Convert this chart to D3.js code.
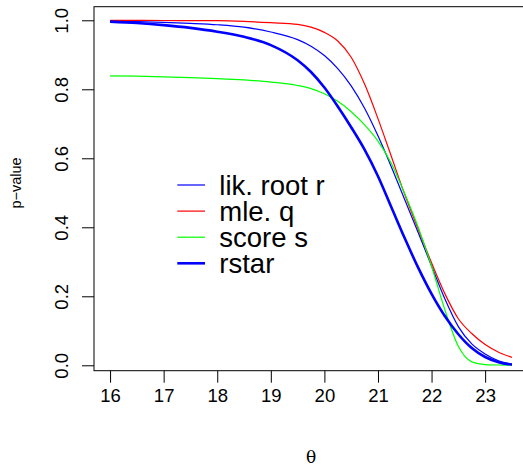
<!DOCTYPE html>
<html>
<head>
<meta charset="utf-8">
<script src="https://cdn.jsdelivr.net/npm/d3@7"></script>
<style>
  body { margin: 0; background: #fff; }
  text { font-family: "Liberation Sans", Arial, Helvetica, sans-serif; fill: #000; }
</style>
</head>
<body>
<script>
const theta = [16, 16.5, 17, 17.5, 18, 18.5, 19, 19.5, 19.75, 20, 20.25, 20.5, 20.75,
               21, 21.25, 21.5, 21.75, 22, 22.25, 22.5, 22.75, 23, 23.25, 23.5];
const likRoot = [0.997, 0.996, 0.994, 0.991, 0.987, 0.980, 0.966, 0.944, 0.925, 0.898, 0.860, 0.810, 0.745,
                 0.665, 0.575, 0.480, 0.385, 0.288, 0.192, 0.112, 0.062, 0.033, 0.013, 0.003];
const mleQ = [0.9995, 0.9995, 0.9994, 0.9992, 0.999, 0.997, 0.993, 0.988, 0.980, 0.965, 0.940, 0.893, 0.815,
              0.715, 0.605, 0.495, 0.395, 0.297, 0.207, 0.135, 0.092, 0.060, 0.038, 0.023];
const scoreS = [0.839, 0.838, 0.836, 0.834, 0.831, 0.827, 0.821, 0.811, 0.802, 0.787, 0.765, 0.735, 0.697,
                0.650, 0.585, 0.497, 0.400, 0.287, 0.160, 0.055, 0.010, 0.002, 0.0008, 0.0005];
const rstar = [0.996, 0.992, 0.986, 0.978, 0.967, 0.952, 0.928, 0.884, 0.850, 0.805, 0.750, 0.690, 0.625,
               0.548, 0.458, 0.368, 0.283, 0.207, 0.142, 0.090, 0.050, 0.024, 0.009, 0.002];

const xTicks = [16, 17, 18, 19, 20, 21, 22, 23];
const yTicks = [0, 0.2, 0.4, 0.6, 0.8, 1.0];

const series = [
  { name: 'lik. root r', values: likRoot, color: '#0000ff', width: 1.2 },
  { name: 'mle. q', values: mleQ, color: '#ff0000', width: 1.2 },
  { name: 'score s', values: scoreS, color: '#00ff00', width: 1.2 },
  { name: 'rstar', values: rstar, color: '#0000ff', width: 2.6 }
];

const outerWidth = 523;
const outerHeight = 465;
const plot = { left: 94, right: 528, top: 6.7, bottom: 370.7 };

const svg = d3.select('body').append('svg')
  .attr('width', outerWidth)
  .attr('height', outerHeight);

// R style 4% padding around the data range
const xPad = (23.5 - 16) * 0.04;
const xScale = d3.scaleLinear()
  .domain([16 - xPad, 23.5 + xPad])
  .range([plot.left, plot.right]);

const yLo = 0.0234, yHi = 1.0003;
const yPad = (yHi - yLo) * 0.04;
const yScale = d3.scaleLinear()
  .domain([yLo - yPad, yHi + yPad])
  .range([plot.bottom, plot.top]);

const line = d3.line()
  .x(d => xScale(d[0]))
  .y(d => yScale(d[1]))
  .curve(d3.curveMonotoneX);

svg.selectAll('path.curve')
  .data(series)
  .enter()
  .append('path')
  .attr('class', 'curve')
  .attr('d', s => line(theta.map((t, i) => [t, s.values[i]])))
  .attr('fill', 'none')
  .attr('stroke', s => s.color)
  .attr('stroke-width', s => s.width);

svg.append('rect')
  .attr('x', plot.left)
  .attr('y', plot.top)
  .attr('width', plot.right - plot.left)
  .attr('height', plot.bottom - plot.top)
  .attr('fill', 'none')
  .attr('stroke', '#000')
  .attr('stroke-width', 1);

const xAxis = d3.axisBottom(xScale)
  .tickValues(xTicks)
  .tickFormat(d3.format('d'))
  .tickSize(12)
  .tickPadding(6)
  .tickSizeOuter(0);

const gx = svg.append('g')
  .attr('id', 'x-axis')
  .attr('transform', `translate(0, ${plot.bottom})`)
  .call(xAxis);
gx.select('.domain').remove();
gx.selectAll('line').attr('stroke', '#000');
gx.selectAll('text')
  .attr('font-size', 18.5)
  .attr('font-family', '"Liberation Sans", Arial, sans-serif');

const yAxis = d3.axisLeft(yScale)
  .tickValues(yTicks)
  .tickFormat(d3.format('.1f'))
  .tickSize(12)
  .tickSizeOuter(0);

const gy = svg.append('g')
  .attr('id', 'y-axis')
  .attr('transform', `translate(${plot.left}, 0)`)
  .call(yAxis);
gy.select('.domain').remove();
gy.selectAll('line').attr('stroke', '#000');
gy.selectAll('text')
  .attr('font-size', 18.5)
  .attr('font-family', '"Liberation Sans", Arial, sans-serif')
  .attr('x', 0)
  .attr('dy', 0)
  .attr('text-anchor', 'middle')
  .attr('transform', 'translate(-26, 0) rotate(-90)');

svg.append('text')
  .attr('transform', `translate(20.5, 183) rotate(-90)`)
  .attr('text-anchor', 'middle')
  .attr('font-size', 14.5)
  .text('p\u2212value');

svg.append('text')
  .attr('x', (plot.left + plot.right) / 2)
  .attr('y', 462.5)
  .attr('text-anchor', 'middle')
  .attr('font-size', 17)
  .style('font-family', '"DejaVu Serif", "Liberation Serif", serif')
  .text('\u03b8');

const legend = svg.append('g')
  .attr('transform', 'translate(177.3, 185)');

const rows = legend.selectAll('g')
  .data(series)
  .enter()
  .append('g')
  .attr('transform', (d, i) => `translate(0, ${i * 26.1})`);

rows.append('line')
  .attr('x1', 0)
  .attr('x2', 27.7)
  .attr('stroke', d => d.color)
  .attr('stroke-width', d => d.width);

rows.append('text')
  .attr('x', 42)
  .attr('y', 9.8)
  .attr('font-size', 27.5)
  .text(d => d.name);
</script>
</body>
</html>
